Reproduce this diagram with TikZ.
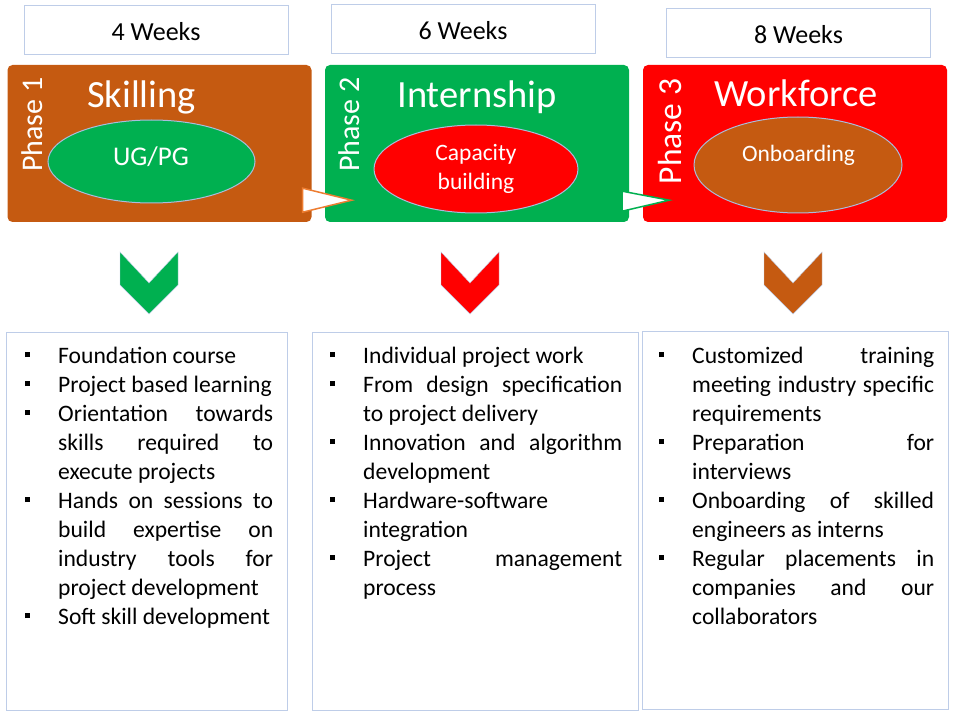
\documentclass[tikz,border=0pt]{standalone}
\usepackage{fontspec}
\setmainfont{Carlito}
\usetikzlibrary{shapes.geometric}
\definecolor{skbrown}{RGB}{197,90,17}
\definecolor{skgreen}{RGB}{0,176,80}
\definecolor{skred}{RGB}{255,0,0}
\definecolor{skorange}{RGB}{237,125,49}
\definecolor{skedge}{RGB}{190,205,232}
\definecolor{skoval}{RGB}{170,188,220}
\tolerance=10000
\hbadness=10000
\hyphenpenalty=10000
\newcommand{\sqitem}{\par\hangindent=33pt\hangafter=1\noindent\rule{0pt}{20pt}\makebox[33pt][l]{\rule[6pt]{5pt}{5.5pt}}}

\begin{document}
\begin{tikzpicture}[x=1pt,y=-1pt,
  weekbox/.style={draw=skedge,line width=1pt,fill=white,minimum width=264,minimum height=49,text height=20pt,text depth=0pt,font=\fontsize{26}{31}\selectfont},
  phasebox/.style={rounded corners=5pt,minimum width=304,minimum height=157,inner sep=0pt},
  phasetxt/.style={white,rotate=90,inner sep=0pt},
  titletxt/.style={white,anchor=base,inner sep=0pt,font=\fontsize{38.5}{46}\selectfont},
  oval/.style={ellipse,draw=skoval,line width=1pt,inner sep=0pt},
  ovaltxt/.style={white,inner sep=0pt,align=center},
  listbox/.style={draw=skedge,line width=1pt,minimum height=378},
  listtxt/.style={anchor=north west,inner sep=0pt,align=justify,font=\fontsize{23.6}{29}\selectfont},
  pointer/.style={fill=white,line width=1.5pt,line join=miter}]
  \useasboundingbox (0,0) rectangle (967,714);

  % durations
  \node (w1) at (156,30.5) [weekbox] {4 Weeks};
  \node (w2) at (463,29.5) [weekbox] {6 Weeks};
  \node (w3) at (798.5,33.5) [weekbox] {8 Weeks};

  % phases
  \node (ph1) at (159.5,143.5) [phasebox,fill=skbrown] {};
  \node (ph2) at (477,143.5) [phasebox,fill=skgreen] {};
  \node (ph3) at (795,143.5) [phasebox,fill=skred] {};
  \node (p1) at (32.5,124.5) [phasetxt,font=\fontsize{30}{36}\selectfont] {Phase 1};
  \node (p2) at (349.5,124.5) [phasetxt,font=\fontsize{30}{36}\selectfont] {Phase 2};
  \node (p3) at (670,131.5) [phasetxt,font=\fontsize{33.5}{40}\selectfont] {Phase 3};
  \node (t1) at (141.5,108) [titletxt] {Skilling};
  \node (t2) at (477,108) [titletxt] {Internship};
  \node (t3) at (796,107) [titletxt] {Workforce};

  \node (e1) at (151.5,161.5) [oval,fill=skgreen,minimum width=207,minimum height=83] {};
  \node (e2) at (476,169) [oval,fill=skred,minimum width=204,minimum height=88] {};
  \node (e3) at (798,165) [oval,fill=skbrown,minimum width=208,minimum height=96] {};
  \node (u1) at (151,166) [ovaltxt,anchor=base,font=\fontsize{27}{32}\selectfont] {UG/PG};
  \node (u2) at (476,169) [ovaltxt,font=\fontsize{23.5}{29}\selectfont] {Capacity\\building};
  \node (u3) at (798.5,162) [ovaltxt,anchor=base,font=\fontsize{23.5}{29}\selectfont] {Onboarding};

  \draw[pointer,draw=skorange] (ph1.south east) ++(-9,-34) -- ++(0,24) -- ++(49,-12) -- cycle;
  \draw[pointer,draw=skgreen] (ph2.south east) ++(-7,-31) -- ++(0,20) -- ++(47,-11) -- cycle;

  % chevrons
  \draw[draw=skedge,fill=skgreen] (120,252) -- (149,283) -- (178,252) -- (178,285) -- (149,314) -- (120,285) -- cycle;
  \draw[draw=skedge,fill=skred] (441,252) -- (470,283) -- (499,252) -- (499,285) -- (470,314) -- (441,285) -- cycle;
  \draw[draw=skedge,fill=skbrown] (764,252) -- (793,283) -- (822,252) -- (822,285) -- (793,314) -- (764,285) -- cycle;

  % details
  \node (b1) at (146.5,521.5) [listbox,minimum width=281] {};
  \node (b2) at (475,521.5) [listbox,minimum width=326] {};
  \node (b3) at (795,520.5) [listbox,minimum width=306] {};
  \node (l1) at (25,334) [listtxt,text width=248] {\sqitem Foundation course
    \sqitem Project based learning
    \sqitem Orientation towards\linebreak skills required to\linebreak execute projects
    \sqitem Hands on sessions to\linebreak build expertise on\linebreak industry tools for\linebreak project development
    \sqitem Soft skill development\par};
  \node (l2) at (330,334) [listtxt,text width=292] {\sqitem Individual project work
    \sqitem From design specification\linebreak to project delivery
    \sqitem Innovation and algorithm\linebreak development
    \sqitem Hardware-software\linebreak integration
    \sqitem Project management\linebreak process\par};
  \node (l3) at (659,334) [listtxt,text width=275] {\sqitem Customized training\linebreak meeting industry specific\linebreak requirements
    \sqitem Preparation for\linebreak interviews
    \sqitem Onboarding of skilled\linebreak engineers as interns
    \sqitem Regular placements in\linebreak companies and our\linebreak collaborators\par};
\end{tikzpicture}
\end{document}
